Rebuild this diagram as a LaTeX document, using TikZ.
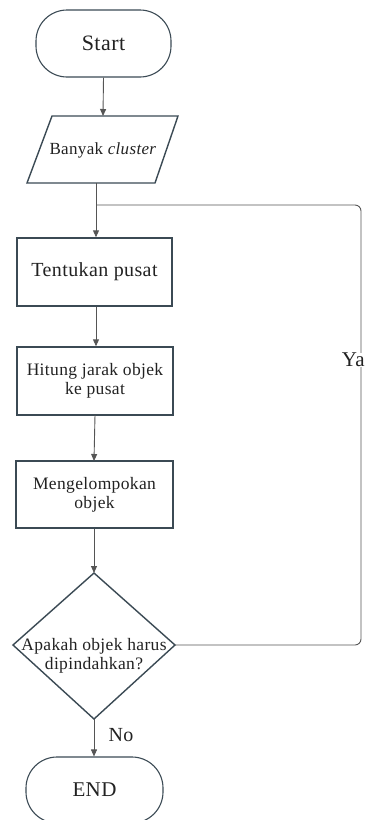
\documentclass[tikz,border=0pt]{standalone}
\usepackage{fontspec}
\setmainfont[LetterSpace=2]{Liberation Serif}
\usetikzlibrary{arrows.meta}
\definecolor{edge}{HTML}{3B4A54}
\definecolor{conn}{HTML}{555555}
\definecolor{txt}{HTML}{222222}
\begin{document}
\begin{tikzpicture}[x=1pt,y=-1pt,
  boxst/.style={draw=edge,line width=1.4pt,rectangle,inner sep=0pt,align=center,text=txt},
  termst/.style={draw=edge,line width=1.1pt,rectangle,rounded corners=31pt,inner sep=0pt,text=txt},
  flow/.style={draw=conn,line width=0.9pt,-{Triangle[length=7pt,width=6pt]}},
  loopline/.style={draw=conn,line width=0.9pt,rounded corners=6pt},
  lbl/.style={font=\fontsize{18}{20}\selectfont,text=txt,inner sep=0pt}]
\useasboundingbox (0,0) rectangle (366,820);
\begin{scope}
\clip (0,0) rectangle (366,820);
% Start
\node[termst,minimum width=135pt,minimum height=67pt,font=\fontsize{22}{24}\selectfont] (start) at (103.5,43.5) {Start};
% Input parallelogram
\draw[draw=edge,line width=1.4pt] (52,116) -- (178,116) -- (155,183) -- (27,183) -- cycle;
\node[lbl,font=\fontsize{17}{19}\selectfont] (inp) at (103,150) {Banyak \textit{cluster}};
\coordinate (inptop) at (103,116);
\coordinate (inpbot) at (96,183);
\coordinate (junc) at (96,205);
% Boxes
\node[boxst,minimum width=155pt,minimum height=68pt,font=\fontsize{20}{22}\selectfont] (b1) at (94.5,272) {Tentukan pusat};
\node[boxst,minimum width=156pt,minimum height=68pt,font=\fontsize{17.5}{19.5}\selectfont] (b2) at (95,381) {Hitung jarak objek\\ke pusat};
\node[boxst,minimum width=157pt,minimum height=67pt,font=\fontsize{17.5}{19}\selectfont] (b3) at (94.5,494.5) {Mengelompokan\\objek};
% Decision diamond
\coordinate (dtop) at (94,573);
\coordinate (dleft) at (13,645);
\coordinate (dright) at (175,645);
\coordinate (dbot) at (94,719);
\draw[draw=edge,line width=1.4pt] (dtop) -- (dright) -- (dbot) -- (dleft) -- cycle;
\node[lbl,align=center,font=\fontsize{17.5}{18.5}\selectfont] (dec) at (94,656) {Apakah objek harus\\dipindahkan?};
% End
\node[termst,minimum width=137pt,minimum height=66pt,font=\fontsize{21}{23}\selectfont] (end) at (94.5,790) {END};
% connectors
\draw[flow] (start.south) -- (inptop);
\draw[draw=conn,line width=0.9pt] (inpbot) -- (junc);
\draw[flow] (junc) -- (b1.north -| junc);
\draw[flow] (b1.south -| junc) -- (b2.north -| junc);
\draw[flow] (95,415) -- (94,461);
\draw[flow] (b3.south) ++(-0.5,0) coordinate (b3s) (b3s) -- (dtop);
\draw[flow] (dbot) -- (end.north -| dbot);
\draw[loopline] (dright) -- (361,645) -- (361,205) -- (junc);
% labels
\node[lbl,font=\fontsize{20}{22}\selectfont,anchor=center] (no) at (121,735) {No};
\node[lbl,font=\fontsize{21}{23}\selectfont,anchor=east,fill=white] (ya) at (365,360) {Ya};
\end{scope}
\end{tikzpicture}
\end{document}
